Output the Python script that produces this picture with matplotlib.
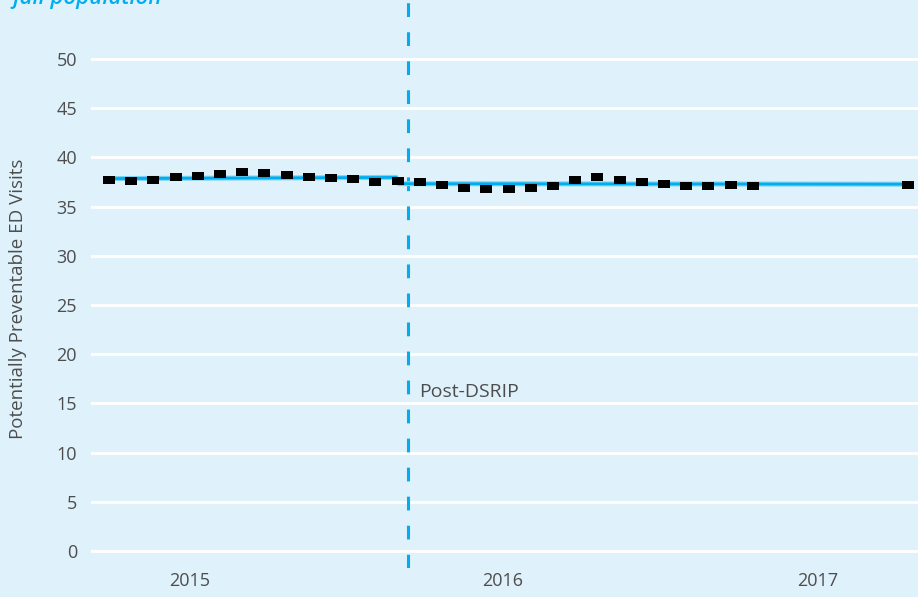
import matplotlib.pyplot as plt
from matplotlib.path import Path

# monthly periods (index from start of series), last one sits after a gap
periods = list(range(30)) + [36]
visits = [37.73, 37.60, 37.73, 38.04, 38.14, 38.34, 38.55, 38.44, 38.24, 38.04,
          37.94, 37.83, 37.53, 37.63, 37.53, 37.23, 36.92, 36.82, 36.82, 36.92,
          37.12, 37.73, 38.04, 37.73, 37.53, 37.33, 37.12, 37.12, 37.23, 37.12,
          37.20]

# fitted segments before / after the intervention
pre_x = [0, 13]
pre_y = [37.85, 37.97]
post_x = [13, 36]
post_y = [37.33, 37.28]

intervention = 13.45
year_pos = [3.65, 17.75, 31.9]
year_labels = ['2015', '2016', '2017']
y_ticks = [0, 5, 10, 15, 20, 25, 30, 35, 40, 45, 50]

bg = '#dff1fb'
blue = '#00aeef'
grey = '#4d4d4d'

plt.rcParams['font.family'] = ['Open Sans', 'DejaVu Sans']

fig = plt.figure(figsize=(9.18, 5.97), dpi=100)
fig.patch.set_facecolor(bg)
ax = fig.add_axes([91 / 918, 29 / 597, 827 / 918, 568 / 597])
ax.set_facecolor(bg)

ax.set_xlim(-0.81, 36.44)
ax.set_ylim(-1.73, 56.0)

for v in y_ticks:
    ax.axhline(v, color='white', lw=2.0, zorder=1)

ax.axvline(intervention, color=blue, lw=2.2, dashes=(4.5, 5), zorder=2)

for xs, ys in [(pre_x, pre_y), (post_x, post_y)]:
    ax.plot(xs, ys, color='#7fd2f3', lw=3.6, solid_capstyle='butt', zorder=3)
    ax.plot(xs, ys, color=blue, lw=2.0, solid_capstyle='butt', zorder=3)

rect = Path([(-1.5, -1), (1.5, -1), (1.5, 1), (-1.5, 1), (-1.5, -1)])
ax.plot(periods, visits, ls='none', marker=rect, ms=8.6, color='black',
        markeredgewidth=0, zorder=4)

ax.text(intervention + 0.5, 16.2, 'Post-DSRIP', color=grey, fontsize=14,
        va='center', ha='left')

ax.set_yticks(y_ticks)
ax.set_yticklabels([str(v) for v in y_ticks])
ax.set_xticks(year_pos)
ax.set_xticklabels(year_labels)
ax.tick_params(axis='y', length=0, pad=10, labelsize=13, labelcolor=grey)
ax.tick_params(axis='x', length=0, pad=3, labelsize=13, labelcolor=grey)
for s in ax.spines.values():
    s.set_visible(False)

fig.text(18 / 918, 0.50, 'Potentially Preventable ED Visits', rotation=90,
         color=grey, fontsize=13.5, ha='center', va='center')
fig.text(12 / 918, 1 - 4 / 597, 'fall population', color=blue, fontsize=16,
         style='italic', fontweight='semibold', ha='left', va='baseline')

fig.savefig('out.png', dpi=100, facecolor=bg)
